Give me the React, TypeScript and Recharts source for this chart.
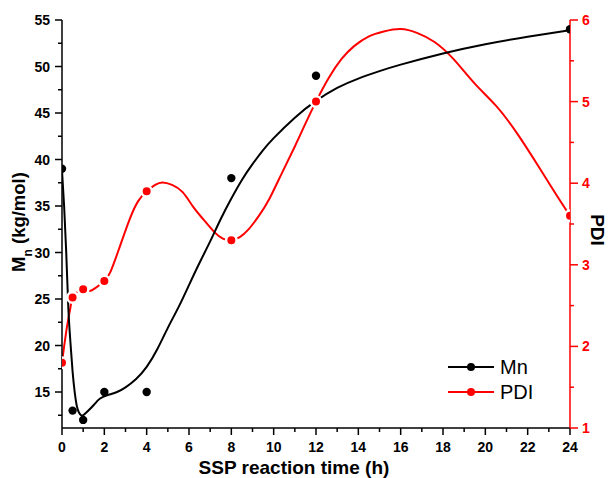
import React from 'react';
import { ComposedChart, Line, Scatter, XAxis, YAxis, Legend } from 'recharts';

const FONT = '"Liberation Sans", Arial, Helvetica, sans-serif';

// measured points
const timeH = [0, 0.5, 1, 2, 4, 8, 12, 24];
const mnValues = [39, 13, 12, 15, 15, 38, 49, 54];
const pdiValues = [1.8, 2.6, 2.7, 2.8, 3.9, 3.3, 5.0, 3.6];

// fitted Mn curve
const mnCurveX = [0, 0.1, 0.2, 0.3, 0.4, 0.5, 0.6, 0.7, 0.8, 0.9, 1.0, 1.2, 1.5, 1.8, 2.2, 2.6, 3.0, 3.5, 4, 4.5, 5, 5.5, 6, 6.5, 7, 7.5, 8, 8.5, 9, 9.5, 10, 11, 12, 13, 14, 15, 16, 18, 20, 22, 24];
const mnCurveY = [38.8, 35, 30, 24, 20.3, 17.2, 15, 13.5, 12.8, 12.5, 12.5, 12.9, 13.6, 14.3, 14.7, 15.0, 15.5, 16.4, 17.7, 19.6, 21.9, 24.1, 26.5, 28.9, 31.2, 33.6, 35.8, 37.8, 39.5, 41.0, 42.3, 44.5, 46.3, 47.7, 48.7, 49.5, 50.2, 51.4, 52.4, 53.2, 53.9];

// PDI spline curve
const pdiCurveX = [0, 0.1, 0.2, 0.3, 0.4, 0.5, 0.75, 1, 1.3, 1.6, 2, 2.3, 2.7, 3.2, 3.6, 4, 4.4, 4.75, 5.2, 5.7, 6.2, 6.7, 7.2, 7.6, 8, 8.4, 8.8, 9.3, 9.8, 10.4, 11, 11.5, 12, 12.6, 13.2, 13.8, 14.5, 15.2, 16, 16.8, 17.6, 18.5, 19.5, 20.5, 21.5, 22.5, 23.3, 24];
const pdiCurveY = [1.8, 2.0, 2.18, 2.34, 2.48, 2.6, 2.67, 2.7, 2.68, 2.72, 2.8, 2.92, 3.2, 3.56, 3.78, 3.9, 3.98, 4.01, 3.98, 3.89, 3.71, 3.55, 3.4, 3.32, 3.3, 3.34, 3.43, 3.6, 3.81, 4.13, 4.45, 4.73, 5.0, 5.29, 5.52, 5.68, 5.8, 5.86, 5.89, 5.84, 5.73, 5.52, 5.22, 4.95, 4.61, 4.21, 3.88, 3.6];

const xTicks = [0, 1, 2, 3, 4, 5, 6, 7, 8, 9, 10, 11, 12, 13, 14, 15, 16, 17, 18, 19, 20, 21, 22, 23, 24];
const mnTicks = [12.5, 15, 17.5, 20, 22.5, 25, 27.5, 30, 32.5, 35, 37.5, 40, 42.5, 45, 47.5, 50, 52.5, 55];
const pdiTicks = [1, 1.5, 2, 2.5, 3, 3.5, 4, 4.5, 5, 5.5, 6];
const seriesNames = ['Mn', 'PDI'];
const seriesColors = ['#000000', '#ff0000'];

const mnPoints = timeH.map((t, i) => ({ t, v: mnValues[i] }));
const pdiPoints = timeH.map((t, i) => ({ t, v: pdiValues[i] }));
const mnCurve = mnCurveX.map((t, i) => ({ t, v: mnCurveY[i] }));
const pdiCurve = pdiCurveX.map((t, i) => ({ t, v: pdiCurveY[i] }));

const BottomTick = (props: any) => {
  const { x, y, payload } = props;
  const v = payload.value;
  const major = v % 2 === 0;
  return (
    <g>
      <line x1={x} x2={x} y1={y} y2={y + (major ? 7 : 4)} stroke="#000" strokeWidth={1.5} />
      {major && (
        <text x={x} y={y + 24} textAnchor="middle" fontFamily={FONT} fontWeight="bold" fontSize={14} fill="#000">
          {v}
        </text>
      )}
    </g>
  );
};

const TopTick = (props: any) => {
  const { x, y, payload } = props;
  const major = payload.value % 2 === 0;
  return <line x1={x} x2={x} y1={y} y2={y + (major ? 7 : 4)} stroke="#000" strokeWidth={1.5} />;
};

const LeftTick = (props: any) => {
  const { x, y, payload } = props;
  const v = payload.value;
  const major = v % 5 === 0;
  return (
    <g>
      <line x1={x - (major ? 7 : 4)} x2={x} y1={y} y2={y} stroke="#000" strokeWidth={1.5} />
      {major && (
        <text x={x - 12} y={y + 5} textAnchor="end" fontFamily={FONT} fontWeight="bold" fontSize={14} fill="#000">
          {v}
        </text>
      )}
    </g>
  );
};

const RightTick = (props: any) => {
  const { x, y, payload } = props;
  const v = payload.value;
  const major = Number.isInteger(v);
  return (
    <g>
      <line x1={x} x2={x + (major ? 8 : 4)} y1={y} y2={y} stroke="#ff0000" strokeWidth={1.5} />
      {major && (
        <text x={x + 12} y={y + 5} textAnchor="start" fontFamily={FONT} fontWeight="bold" fontSize={14} fill="#ff0000">
          {v}
        </text>
      )}
    </g>
  );
};

const LeftLabel = () => (
  <text transform="translate(25,222) rotate(-90)" textAnchor="middle" fontFamily={FONT} fontWeight="bold" fontSize={18.5} fill="#000">
    M<tspan fontSize={12} dy={7}>n</tspan>
    <tspan dy={-7}> (kg/mol)</tspan>
  </text>
);

const RightLabel = () => (
  <text transform="translate(591,230) rotate(90)" textAnchor="middle" fontFamily={FONT} fontWeight="bold" fontSize={19} fill="#000">
    PDI
  </text>
);

const BottomLabel = () => (
  <text x={294} y={474} textAnchor="middle" fontFamily={FONT} fontWeight="bold" fontSize={19} fill="#000">
    SSP reaction time (h)
  </text>
);

const RedDot = (props: any) => (
  <circle cx={props.cx} cy={props.cy} r={5.25} fill="#ff0000" stroke="#ffffff" strokeWidth={2.5} />
);
const BlackDot = (props: any) => <circle cx={props.cx} cy={props.cy} r={4.2} fill="#000000" />;

const renderLegend = () => (
  <svg width={140} height={60} style={{ display: 'block' }}>
    {seriesNames.map((name, i) => {
      const cy = 10 + i * 25;
      return (
        <g key={name}>
          <line x1={0} x2={46} y1={cy} y2={cy} stroke={seriesColors[i]} strokeWidth={2} />
          <circle cx={23} cy={cy} r={4} fill={seriesColors[i]} />
          <text x={52} y={cy + 7} fontSize={20} fontFamily={FONT} fill="#000">
            {name}
          </text>
        </g>
      );
    })}
  </svg>
);

export default function App() {
  return (
    <div style={{ position: 'absolute', left: 0, top: 0, width: 608, height: 478, background: '#fff' }}>
      <ComposedChart width={608} height={478} margin={{ top: 20, right: 0, bottom: 0, left: 0 }}>
        <XAxis
          xAxisId="bottom"
          dataKey="t"
          type="number"
          domain={[0, 24]}
          ticks={xTicks}
          interval={0}
          allowDataOverflow
          orientation="bottom"
          height={50}
          tickSize={0}
          tickMargin={0}
          tickLine={false}
          tick={<BottomTick />}
          axisLine={{ stroke: '#000', strokeWidth: 1.5 }}
          label={<BottomLabel />}
        />
        <XAxis
          xAxisId="top"
          dataKey="t"
          type="number"
          domain={[0, 24]}
          ticks={xTicks}
          interval={0}
          allowDataOverflow
          orientation="top"
          height={0}
          tickSize={0}
          tickMargin={0}
          tickLine={false}
          tick={<TopTick />}
          axisLine={{ stroke: '#000', strokeWidth: 1.5 }}
        />
        <YAxis
          yAxisId="mn"
          orientation="left"
          type="number"
          domain={[11.13, 55]}
          ticks={mnTicks}
          interval={0}
          allowDataOverflow
          width={62}
          tickSize={0}
          tickMargin={0}
          tickLine={false}
          tick={<LeftTick />}
          axisLine={{ stroke: '#000', strokeWidth: 1.5 }}
          label={<LeftLabel />}
        />
        <YAxis
          yAxisId="pdi"
          orientation="right"
          type="number"
          domain={[1, 6]}
          ticks={pdiTicks}
          interval={0}
          allowDataOverflow
          width={38}
          tickSize={0}
          tickMargin={0}
          tickLine={false}
          tick={<RightTick />}
          axisLine={{ stroke: '#ff0000', strokeWidth: 1.5 }}
          label={<RightLabel />}
        />
        <Line
          data={pdiCurve}
          xAxisId="bottom"
          yAxisId="pdi"
          dataKey="v"
          type="natural"
          stroke="#ff0000"
          strokeWidth={2}
          dot={false}
          activeDot={false}
          isAnimationActive={false}
          legendType="none"
        />
        <Scatter
          data={pdiPoints}
          xAxisId="bottom"
          yAxisId="pdi"
          dataKey="v"
          shape={RedDot}
          isAnimationActive={false}
          legendType="none"
        />
        <Line
          data={mnCurve}
          xAxisId="bottom"
          yAxisId="mn"
          dataKey="v"
          type="natural"
          stroke="#000000"
          strokeWidth={2}
          dot={false}
          activeDot={false}
          isAnimationActive={false}
          legendType="none"
        />
        <Scatter
          data={mnPoints}
          xAxisId="bottom"
          yAxisId="mn"
          dataKey="v"
          shape={BlackDot}
          isAnimationActive={false}
          legendType="none"
        />
        <Legend
          layout="horizontal"
          verticalAlign="middle"
          align="center"
          content={renderLegend}
          wrapperStyle={{ left: 448, top: 357, width: 140, height: 60 }}
        />
      </ComposedChart>
    </div>
  );
}
